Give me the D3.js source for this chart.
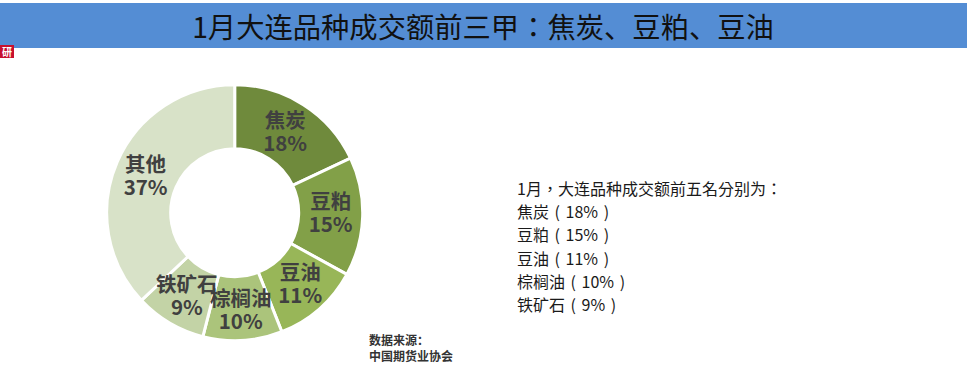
<!DOCTYPE html>
<html>
  <head>
    <meta charset="utf-8">
    <script src="https://d3js.org/d3.v7.min.js"></script>
    <style>
      html, body { margin: 0; padding: 0; background: #fff; }
      svg { display: block; }
    </style>
  </head>
  <body>
    <svg id="chart"></svg>
    <script>
      const categories = ["焦炭", "豆粕", "豆油", "棕榈油", "铁矿石", "其他"];
      const shares = [18, 15, 11, 10, 9, 37];
      const sliceColors = ["#6f8a3c", "#82a048", "#98b658", "#abc47b", "#c3d3a6", "#d8e2c8"];
      const titleParts = ["1月大连品种成交额前三甲", "：", "焦炭、豆粕、豆油"];
      const noteHead = "1月，大连品种成交额前五名分别为：";
      const sourceLines = ["数据来源：", "中国期货业协会"];

      const fontCjk = "'Noto Sans CJK SC', 'Noto Sans', sans-serif";
      const fontNote = "'Noto Sans CJK TC', 'Noto Sans CJK SC', sans-serif"; // centred punctuation like the original
      const width = 967, height = 386;
      const svg = d3.select("#chart").attr("width", width).attr("height", height);

      // title band
      svg.append("rect").attr("x", 0).attr("y", 3).attr("width", width).attr("height", 45).attr("fill", "#548dd4");
      svg.append("text").attr("x", 483).attr("y", 38).attr("text-anchor", "middle")
        .attr("font-family", fontCjk).attr("font-size", 28.3).attr("fill", "#111")
        .selectAll("tspan").data(titleParts).enter().append("tspan")
        .attr("font-family", (d, i) => i == 1 ? fontNote : fontCjk)
        .text(d => d);

      // small red logo under the band
      const logo = svg.append("g").attr("transform", "translate(0, 45)");
      logo.append("rect").attr("width", 14).attr("height", 13).attr("fill", "#c8102e");
      logo.append("text").attr("x", 7).attr("y", 10.5).attr("text-anchor", "middle")
        .attr("font-family", fontCjk).attr("font-size", 10).attr("font-weight", 700).attr("fill", "#fff").text("研");

      // donut
      const pie = d3.pie().sort(null).value(d => d)(shares);
      const arc = d3.arc().innerRadius(64).outerRadius(128);
      const donut = svg.append("g").attr("transform", "translate(234.7, 212.7)");
      donut.selectAll("path").data(pie).enter().append("path")
        .attr("d", arc)
        .attr("fill", (d, i) => sliceColors[i])
        .attr("stroke", "#fff").attr("stroke-width", 3);

      // slice labels, nudged where the original sits off-centre
      const labelNudge = [[-1, 0], [0, -3], [2, -1], [0, 1], [1, 1], [-1, 1]];
      const labels = donut.selectAll("g.label").data(pie).enter().append("g").attr("class", "label")
        .attr("transform", (d, i) => {
          const c = arc.centroid(d);
          return `translate(${c[0] + labelNudge[i][0]}, ${c[1] + labelNudge[i][1]})`;
        })
        .attr("text-anchor", "middle").attr("font-family", fontCjk)
        .attr("font-size", 20.5).attr("font-weight", 700).attr("fill", "#404040");
      labels.append("text").attr("y", -4).text((d, i) => categories[i]);
      labels.append("text").attr("y", 19).text(d => d.value + "%");

      // note on the right
      const noteRows = [noteHead].concat(categories.slice(0, 5).map((c, i) => `${c} ( ${shares[i]}% )`));
      svg.append("g").attr("font-family", fontNote).attr("font-size", 16).attr("fill", "#1a1a1a")
        .attr("word-spacing", 2)
        .selectAll("text").data(noteRows).enter().append("text")
        .attr("x", 517).attr("y", (d, i) => 195 + i * 23.2).text(d => d);

      // source
      svg.append("g").attr("font-family", fontCjk).attr("font-size", 12).attr("font-weight", 700).attr("fill", "#333")
        .selectAll("text").data(sourceLines).enter().append("text")
        .attr("x", 369).attr("y", (d, i) => 345 + i * 16).text(d => d);
    </script>
  </body>
</html>
